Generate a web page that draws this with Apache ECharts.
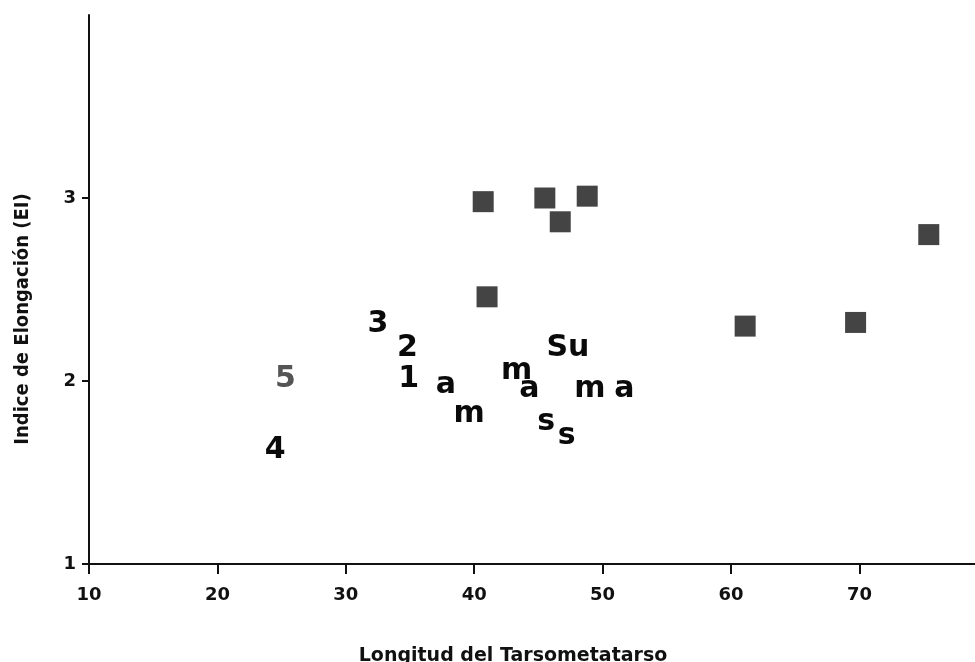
<!DOCTYPE html>
<html>
<head>
<meta charset="utf-8">
<script src="https://cdn.jsdelivr.net/npm/echarts@6/dist/echarts.min.js"></script>
<style>
  html, body { margin: 0; padding: 0; background: #fff; }
  #main { width: 975px; height: 662px; }
</style>
</head>
<body>
<div id="main"></div>
<script>
// Squares (grey markers)
const squareX = [40.7, 45.5, 48.8, 46.7, 41.0, 61.1, 69.7, 75.4];
const squareY = [2.98, 3.0, 3.01, 2.87, 2.46, 2.30, 2.32, 2.80];

// Text markers (black)
const labelNames = ["3", "2", "1", "a", "m", "m", "a", "Su", "m", "a", "s", "s", "4"];
const labelX = [32.5, 34.8, 34.9, 37.8, 39.6, 43.3, 44.3, 47.3, 49.0, 51.7, 45.6, 47.2, 24.5];
const labelY = [2.31, 2.18, 2.01, 1.975, 1.82, 2.055, 1.955, 2.18, 1.955, 1.955, 1.775, 1.70, 1.62];

// Text marker in grey
const greyNames = ["5"];
const greyX = [25.3];
const greyY = [2.01];

// Axis ticks
const xTicks = [10, 20, 30, 40, 50, 60, 70];
const yTicks = [1, 2, 3];

var myChart = echarts.init(document.getElementById("main"));

function textPoints(names, xs, ys) {
  let out = [];
  for (let i = 0; i < names.length; i++) {
    out.push({ name: names[i], value: [xs[i], ys[i]] });
  }
  return out;
}

var font = "DejaVu Sans";

var option = {
  animation: false,
  backgroundColor: "#fff",
  textStyle: { fontFamily: font },
  grid: {
    left: 89,
    right: 0,
    top: 15,
    bottom: 98,
    outerBoundsMode: "none",
  },
  xAxis: {
    type: "value",
    min: 10,
    max: 79,
    interval: 10,
    name: "Longitud del Tarsometatarso",
    nameLocation: "middle",
    nameGap: 83,
    nameTextStyle: {
      fontFamily: font,
      fontWeight: "bold",
      fontSize: 19,
      color: "#111",
      padding: [0, 38, 0, 0],
    },
    axisLine: { lineStyle: { color: "#111", width: 2 } },
    axisTick: {
      length: 10,
      lineStyle: { color: "#111", width: 2 },
      customValues: xTicks,
    },
    axisLabel: {
      margin: 22,
      fontFamily: font,
      fontWeight: "bold",
      fontSize: 18,
      color: "#111",
      customValues: xTicks,
    },
    splitLine: { show: false },
  },
  yAxis: {
    type: "value",
    min: 1,
    max: 4,
    interval: 1,
    name: "Indice de Elongación (EI)",
    nameLocation: "middle",
    nameGap: 56,
    nameTextStyle: {
      fontFamily: "DejaVu Sans Condensed, DejaVu Sans",
      fontWeight: "bold",
      fontSize: 20,
      color: "#111",
      padding: [0, 59, 0, 0],
    },
    axisLine: { lineStyle: { color: "#111", width: 2 } },
    axisTick: {
      length: 7,
      lineStyle: { color: "#111", width: 2 },
      customValues: yTicks,
    },
    axisLabel: {
      margin: 13,
      fontFamily: font,
      fontWeight: "bold",
      fontSize: 18,
      color: "#111",
      customValues: yTicks,
    },
    splitLine: { show: false },
  },
  series: [
    {
      name: "squares",
      type: "scatter",
      symbol: "rect",
      symbolSize: 21,
      data: squareX.map((x, i) => [x, squareY[i]]),
      itemStyle: { color: "#444", opacity: 1 },
    },
    {
      name: "labels",
      type: "scatter",
      symbolSize: 1,
      itemStyle: { color: "rgba(0,0,0,0)", opacity: 1 },
      data: textPoints(labelNames, labelX, labelY),
      label: {
        show: true,
        position: "inside",
        formatter: "{b}",
        fontFamily: font,
        fontWeight: "bold",
        fontSize: 30,
        color: "#0a0a0a",
        opacity: 1,
      },
    },
    {
      name: "grey",
      type: "scatter",
      symbolSize: 1,
      itemStyle: { color: "rgba(0,0,0,0)", opacity: 1 },
      data: textPoints(greyNames, greyX, greyY),
      label: {
        show: true,
        position: "inside",
        formatter: "{b}",
        fontFamily: font,
        fontWeight: "bold",
        fontSize: 30,
        color: "#555",
        opacity: 1,
      },
    },
  ],
};

myChart.setOption(option);
</script>
</body>
</html>
